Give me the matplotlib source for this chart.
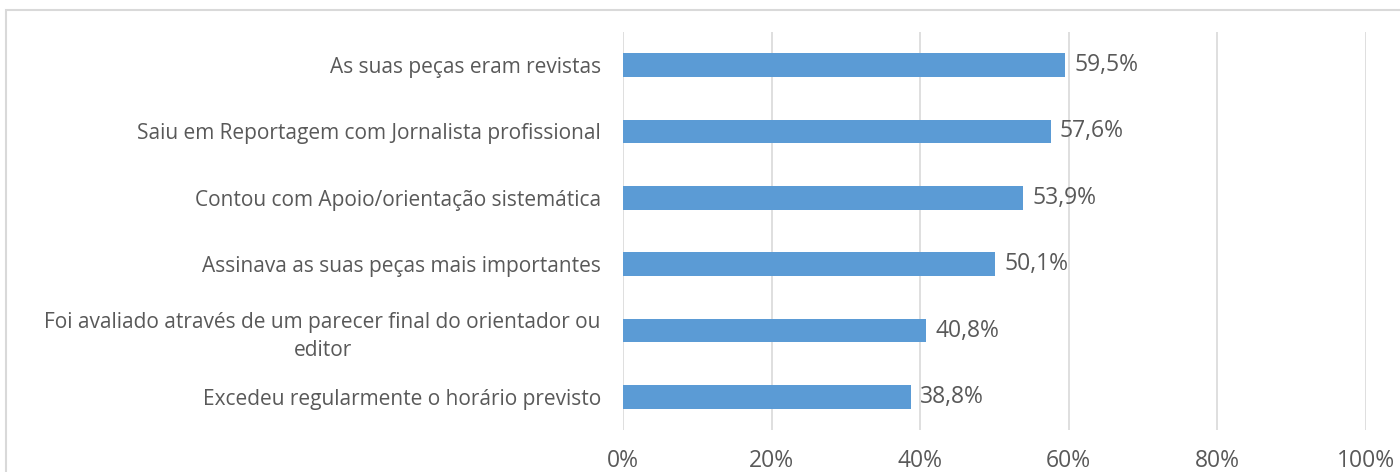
import matplotlib

matplotlib.use("Agg")
import matplotlib.pyplot as plt
from matplotlib.patches import Rectangle

categories = [
    "As suas peças eram revistas",
    "Saiu em Reportagem com Jornalista profissional",
    "Contou com Apoio/orientação sistemática",
    "Assinava as suas peças mais importantes",
    "Foi avaliado através de um parecer final do orientador ou\neditor",
    "Excedeu regularmente o horário previsto",
]
values = [59.5, 57.6, 53.9, 50.1, 40.8, 38.8]
xticks = [0, 20, 40, 60, 80, 100]

BAR = "#5B9BD5"
TEXT = "#595959"
GRID = "#D9D9D9"

plt.rcParams["font.family"] = ["Open Sans", "DejaVu Sans"]

fig = plt.figure(figsize=(14, 4.72), dpi=100)
ax = fig.add_axes([623 / 1400, 1 - 430 / 472, (1366 - 623) / 1400, (430 - 32) / 472])

# outer chart border
fig.patches.append(Rectangle((6 / 1400, -0.1), 1.5, 1 - 10 / 472 + 0.1,
                             transform=fig.transFigure, fill=False,
                             edgecolor=GRID, linewidth=1.5))

ypos = list(range(len(categories)))[::-1]
ax.barh(ypos, values, height=0.36, color=BAR, zorder=2)
for y, v in zip(ypos, values):
    ax.text(v + 1.2, y, f"{v:.1f}%".replace(".", ","), va="center", ha="left",
            fontsize=16.5, color=TEXT)

ax.set_xlim(0, 100)
ax.set_ylim(-0.5, len(categories) - 0.5)
ax.set_xticks(xticks)
ax.set_xticklabels([f"{t}%" for t in xticks], fontsize=16.5, color=TEXT)
ax.set_yticks(ypos)
ax.set_yticklabels(categories, fontsize=15, color=TEXT, ha="right",
                   multialignment="center", linespacing=1.45)
ax.tick_params(axis="y", length=0, pad=16)
ax.tick_params(axis="x", length=0, pad=14)
ax.grid(axis="x", color=GRID, linewidth=1.2, zorder=0)
for s in ax.spines.values():
    s.set_visible(False)

fig.savefig("out.png", dpi=100)
